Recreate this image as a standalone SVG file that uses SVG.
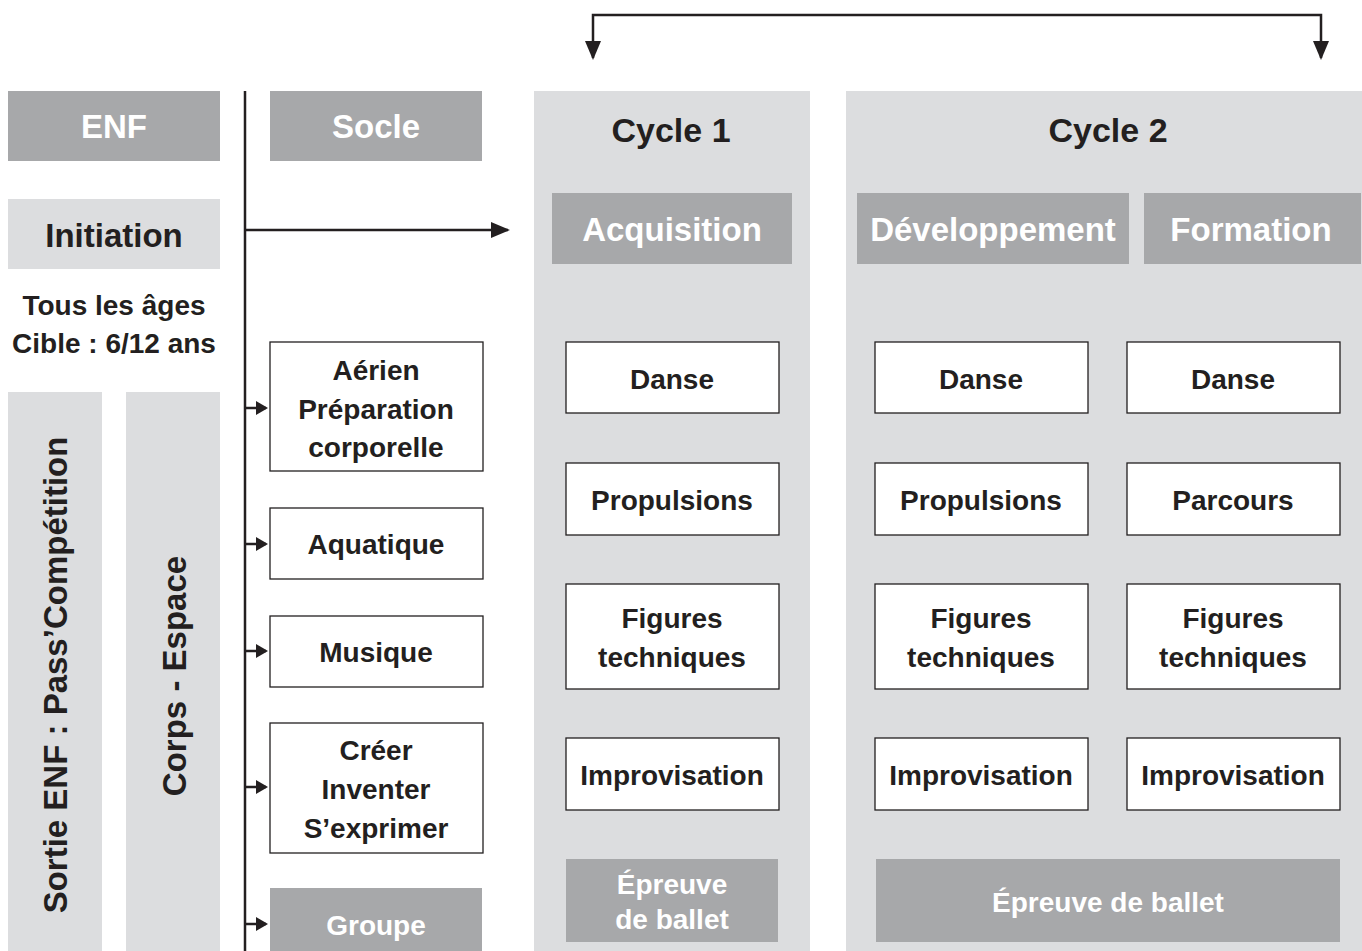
<svg xmlns="http://www.w3.org/2000/svg" width="1362" height="951" viewBox="0 0 1362 951">
<style>
text{font-family:"Liberation Sans",Arial,sans-serif;font-weight:bold;text-anchor:middle}
.dark{fill:#a7a8aa}
.light{fill:#dcdddf}
.box{fill:#fff;stroke:#231f20;stroke-width:1.3}
.wh{fill:#fff;font-size:33px}
.bk{fill:#231f20;font-size:28px}
.hd{fill:#231f20;font-size:34px}
.ln{stroke:#231f20;stroke-width:2.5;fill:none}
</style>
<defs>
<marker id="ah" markerWidth="12" markerHeight="14" refX="10" refY="7" orient="auto" markerUnits="userSpaceOnUse"><path d="M0,0 L12,7 L0,14 Z" fill="#231f20"/></marker>
<marker id="ahb" markerWidth="20" markerHeight="16" refX="17" refY="8" orient="auto-start-reverse" markerUnits="userSpaceOnUse"><path d="M0,0 L19,8 L0,16 Z" fill="#231f20"/></marker>
</defs>
<rect width="1362" height="951" fill="#fff"/>
<g id="cycle1"><rect class="light" x="534" y="91" width="276" height="860"/><text class="hd" x="671" y="142">Cycle 1</text></g>
<g id="cycle2"><rect class="light" x="846" y="91" width="516" height="860"/><text class="hd" x="1108" y="142">Cycle 2</text></g>
<g id="enf"><rect class="dark" x="8" y="91" width="212" height="70"/><text class="wh" x="114" y="138">ENF</text></g>
<g id="socle"><rect class="dark" x="270" y="91" width="212" height="70"/><text class="wh" x="376" y="138">Socle</text></g>
<g id="initiation"><rect class="light" x="8" y="199" width="212" height="70"/><text class="bk" x="114" y="247" style="font-size:33px">Initiation</text></g>
<g id="ages"><text class="bk" x="114" y="315">Tous les âges</text><text class="bk" x="114" y="353">Cible : 6/12 ans</text></g>
<g id="sortie"><rect class="light" x="8" y="392" width="94" height="559"/><text class="bk" transform="translate(67,675) rotate(-90)" style="font-size:33px">Sortie ENF : Pass’Compétition</text></g>
<g id="corps"><rect class="light" x="126" y="392" width="94" height="559"/><text class="bk" transform="translate(186,676) rotate(-90)" style="font-size:33px">Corps - Espace</text></g>
<g id="acquisition"><rect class="dark" x="552" y="193" width="240" height="71"/><text class="wh" x="672" y="241">Acquisition</text></g>
<g id="developpement"><rect class="dark" x="857" y="193" width="272" height="71"/><text class="wh" x="993" y="241">Développement</text></g>
<g id="formation"><rect class="dark" x="1144" y="193" width="217" height="71"/><text class="wh" x="1251" y="241">Formation</text></g>
<g id="aerien"><rect class="box" x="270" y="342" width="213" height="129"/><text class="bk" x="376" y="380">Aérien</text><text class="bk" x="376" y="419">Préparation</text><text class="bk" x="376" y="457">corporelle</text></g>
<g id="aquatique"><rect class="box" x="270" y="508" width="213" height="71"/><text class="bk" x="376" y="554">Aquatique</text></g>
<g id="musique"><rect class="box" x="270" y="616" width="213" height="71"/><text class="bk" x="376" y="662">Musique</text></g>
<g id="creer"><rect class="box" x="270" y="723" width="213" height="130"/><text class="bk" x="376" y="760">Créer</text><text class="bk" x="376" y="799">Inventer</text><text class="bk" x="376" y="838">S’exprimer</text></g>
<g id="groupe"><rect class="dark" x="270" y="888" width="212" height="63"/><text class="wh" x="376" y="935" style="font-size:28px">Groupe</text></g>
<g id="c1-danse"><rect class="box" x="566" y="342" width="213" height="71"/><text class="bk" x="672" y="389">Danse</text></g>
<g id="c1-propulsions"><rect class="box" x="566" y="463" width="213" height="72"/><text class="bk" x="672" y="510">Propulsions</text></g>
<g id="c1-figures"><rect class="box" x="566" y="584" width="213" height="105"/><text class="bk" x="672" y="628">Figures</text><text class="bk" x="672" y="667">techniques</text></g>
<g id="c1-impro"><rect class="box" x="566" y="738" width="213" height="72"/><text class="bk" x="672" y="785">Improvisation</text></g>
<g id="c1-epreuve"><rect class="dark" x="566" y="859" width="212" height="83"/><text class="wh" x="672" y="894" style="font-size:28px">Épreuve</text><text class="wh" x="672" y="929" style="font-size:28px">de ballet</text></g>
<g id="c2a-danse"><rect class="box" x="875" y="342" width="213" height="71"/><text class="bk" x="981" y="389">Danse</text></g>
<g id="c2a-propulsions"><rect class="box" x="875" y="463" width="213" height="72"/><text class="bk" x="981" y="510">Propulsions</text></g>
<g id="c2a-figures"><rect class="box" x="875" y="584" width="213" height="105"/><text class="bk" x="981" y="628">Figures</text><text class="bk" x="981" y="667">techniques</text></g>
<g id="c2a-impro"><rect class="box" x="875" y="738" width="213" height="72"/><text class="bk" x="981" y="785">Improvisation</text></g>
<g id="c2b-danse"><rect class="box" x="1127" y="342" width="213" height="71"/><text class="bk" x="1233" y="389">Danse</text></g>
<g id="c2b-parcours"><rect class="box" x="1127" y="463" width="213" height="72"/><text class="bk" x="1233" y="510">Parcours</text></g>
<g id="c2b-figures"><rect class="box" x="1127" y="584" width="213" height="105"/><text class="bk" x="1233" y="628">Figures</text><text class="bk" x="1233" y="667">techniques</text></g>
<g id="c2b-impro"><rect class="box" x="1127" y="738" width="213" height="72"/><text class="bk" x="1233" y="785">Improvisation</text></g>
<g id="c2-epreuve"><rect class="dark" x="876" y="859" width="464" height="83"/><text class="wh" x="1108" y="912" style="font-size:28px">Épreuve de ballet</text></g>
<g id="connectors">
<path class="ln" d="M593,58 V15 H1321 V58" marker-start="url(#ahb)" marker-end="url(#ahb)"/>
<line class="ln" x1="245" y1="91" x2="245" y2="951"/>
<line class="ln" x1="245" y1="230" x2="508" y2="230" marker-end="url(#ahb)"/>
<line class="ln" x1="245" y1="408" x2="266" y2="408" marker-end="url(#ah)"/>
<line class="ln" x1="245" y1="544" x2="266" y2="544" marker-end="url(#ah)"/>
<line class="ln" x1="245" y1="651" x2="266" y2="651" marker-end="url(#ah)"/>
<line class="ln" x1="245" y1="787" x2="266" y2="787" marker-end="url(#ah)"/>
<line class="ln" x1="245" y1="924" x2="266" y2="924" marker-end="url(#ah)"/>
</g>
</svg>
